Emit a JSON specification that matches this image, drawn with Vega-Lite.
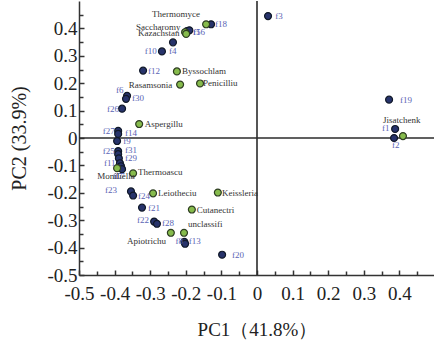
{
  "$schema": "https://vega.github.io/schema/vega-lite/v6.json",
  "width": 356,
  "height": 274,
  "autosize": {"type": "none"},
  "padding": {"left": 79, "top": 1, "right": 0, "bottom": 67},
  "background": "white",
  "config": {"view": {"stroke": null}, "font": "Liberation Serif", "axis": {"labelOverlap": false, "grid": false}},
  "resolve": {"axis": {"x": "independent", "y": "independent"}},
  "datasets": {
    "pts": [
      {"name": "f3", "type": "sample", "x": 0.031, "y": 0.445, "lx": 0.051, "ly": 0.445},
      {"name": "f18", "type": "sample", "x": -0.129, "y": 0.415, "lx": -0.118, "ly": 0.415},
      {"name": "f5", "type": "sample", "x": -0.197, "y": 0.39, "lx": -0.18, "ly": 0.386},
      {"name": "f16", "type": "sample", "x": -0.19, "y": 0.393, "lx": -0.18, "ly": 0.386},
      {"name": "f4", "type": "sample", "x": -0.236, "y": 0.349, "lx": -0.247, "ly": 0.316},
      {"name": "f10", "type": "sample", "x": -0.267, "y": 0.316, "lx": -0.315, "ly": 0.316},
      {"name": "f12", "type": "sample", "x": -0.32, "y": 0.246, "lx": -0.306, "ly": 0.246},
      {"name": "f6", "type": "sample", "x": -0.365, "y": 0.154, "lx": -0.396, "ly": 0.176},
      {"name": "f30", "type": "sample", "x": -0.368, "y": 0.143, "lx": -0.351, "ly": 0.147},
      {"name": "f26", "type": "sample", "x": -0.379, "y": 0.107, "lx": -0.421, "ly": 0.107},
      {"name": "f27", "type": "sample", "x": -0.39, "y": 0.026, "lx": -0.433, "ly": 0.026},
      {"name": "f14", "type": "sample", "x": -0.39, "y": 0.015, "lx": -0.371, "ly": 0.018},
      {"name": "f9", "type": "sample", "x": -0.393, "y": -0.011, "lx": -0.376, "ly": -0.011},
      {"name": "f25", "type": "sample", "x": -0.39, "y": -0.048, "lx": -0.433, "ly": -0.048},
      {"name": "f31", "type": "sample", "x": -0.39, "y": -0.059, "lx": -0.371, "ly": -0.044},
      {"name": "f29", "type": "sample", "x": -0.388, "y": -0.074, "lx": -0.371, "ly": -0.074},
      {"name": "f11", "type": "sample", "x": -0.385, "y": -0.092, "lx": -0.43, "ly": -0.092},
      {"name": "f7", "type": "sample", "x": -0.382, "y": -0.103, "lx": -0.399, "ly": -0.14},
      {"name": "f17", "type": "sample", "x": -0.379, "y": -0.114, "lx": -0.405, "ly": -0.14},
      {"name": "f23", "type": "sample", "x": -0.354, "y": -0.195, "lx": -0.427, "ly": -0.191},
      {"name": "f24", "type": "sample", "x": -0.348, "y": -0.21, "lx": -0.334, "ly": -0.21},
      {"name": "f21", "type": "sample", "x": -0.323, "y": -0.254, "lx": -0.306, "ly": -0.254},
      {"name": "f22", "type": "sample", "x": -0.289, "y": -0.305, "lx": -0.337, "ly": -0.301},
      {"name": "f28", "type": "sample", "x": -0.281, "y": -0.313, "lx": -0.267, "ly": -0.309},
      {"name": "f8", "type": "sample", "x": -0.204, "y": -0.379, "lx": -0.229, "ly": -0.375},
      {"name": "f13", "type": "sample", "x": -0.202, "y": -0.386, "lx": -0.192, "ly": -0.375},
      {"name": "f20", "type": "sample", "x": -0.098, "y": -0.426, "lx": -0.07, "ly": -0.426},
      {"name": "f19", "type": "sample", "x": 0.371, "y": 0.14, "lx": 0.402, "ly": 0.14},
      {"name": "f1", "type": "sample", "x": 0.388, "y": 0.033, "lx": 0.351, "ly": 0.037},
      {"name": "f2", "type": "sample", "x": 0.385, "y": 0.0, "lx": 0.379, "ly": -0.026},
      {"name": "Thermomyce", "type": "genus", "x": -0.143, "y": 0.415, "lx": -0.295, "ly": 0.452},
      {"name": "Saccharomy", "type": "genus", "x": -0.202, "y": 0.386, "lx": -0.34, "ly": 0.404},
      {"name": "Kazachstan", "type": "genus", "x": -0.199, "y": 0.38, "lx": -0.334, "ly": 0.382},
      {"name": "Byssochlam", "type": "genus", "x": -0.225, "y": 0.243, "lx": -0.211, "ly": 0.243},
      {"name": "Rasamsonia", "type": "genus", "x": -0.216, "y": 0.195, "lx": -0.36, "ly": 0.195},
      {"name": "Penicilliu", "type": "genus", "x": -0.16, "y": 0.199, "lx": -0.152, "ly": 0.199},
      {"name": "Aspergillu", "type": "genus", "x": -0.331, "y": 0.051, "lx": -0.315, "ly": 0.051},
      {"name": "Moniliella", "type": "genus", "x": -0.393, "y": -0.11, "lx": -0.449, "ly": -0.14},
      {"name": "Thermoascu", "type": "genus", "x": -0.348, "y": -0.129, "lx": -0.334, "ly": -0.125},
      {"name": "Leiotheciu", "type": "genus", "x": -0.292, "y": -0.202, "lx": -0.278, "ly": -0.202},
      {"name": "Keissleria", "type": "genus", "x": -0.11, "y": -0.199, "lx": -0.098, "ly": -0.199},
      {"name": "Cutanectri", "type": "genus", "x": -0.183, "y": -0.261, "lx": -0.169, "ly": -0.261},
      {"name": "unclassifi", "type": "genus", "x": -0.205, "y": -0.346, "lx": -0.194, "ly": -0.313},
      {"name": "Apiotrichu", "type": "genus", "x": -0.242, "y": -0.346, "lx": -0.365, "ly": -0.375},
      {"name": "Jisatchenk", "type": "genus", "x": 0.41, "y": 0.007, "lx": 0.354, "ly": 0.066}
    ],
    "zero": [{"z": 0}]
  },
  "layer": [
    {
      "data": {"name": "zero"},
      "mark": {"type": "rule", "color": "#2b2b2b", "strokeWidth": 1.6},
      "encoding": {
        "x": {"field": "z", "type": "quantitative", "scale": {"domain": [-0.5, 0.5], "nice": false, "zero": false},
          "axis": {
            "orient": "bottom",
            "values": [-0.5, -0.4, -0.3, -0.2, -0.1, 0, 0.1, 0.2, 0.3, 0.4],
            "labelExpr": "datum.value == 0 ? '0' : (datum.value < 0 ? '-' + format(abs(datum.value), '.1f') : format(datum.value, '.1f'))",
            "title": "PC1（41.8%）",
            "titleFont": "Liberation Serif",
            "titleFontSize": 19,
            "titleFontWeight": "normal",
            "titleColor": "#222",
            "titlePadding": 17,
            "labelFont": "Liberation Serif",
            "labelFontSize": 19,
            "labelColor": "#222",
            "labelPadding": 14,
            "labelFlush": false,
            "labelOverlap": false,
            "labelBound": false,
            "tickSize": -5,
            "tickColor": "#333",
            "tickWidth": 1.5,
            "domainColor": "#333",
            "domainWidth": 1.5,
            "grid": false
          }
        }
      }
    },
    {
      "data": {"name": "zero"},
      "mark": {"type": "rule", "color": "#2b2b2b", "strokeWidth": 1.6},
      "encoding": {
        "y": {"field": "z", "type": "quantitative", "scale": {"domain": [-0.5, 0.5], "nice": false, "zero": false},
          "axis": {
            "orient": "left",
            "values": [-0.5, -0.4, -0.3, -0.2, -0.1, 0, 0.1, 0.2, 0.3, 0.4],
            "labelExpr": "datum.value == 0 ? '0' : (datum.value < 0 ? '-' + format(abs(datum.value), '.1f') : format(datum.value, '.1f'))",
            "title": "PC2 (33.9%)",
            "titleFont": "Liberation Serif",
            "titleFontSize": 20,
            "titleFontWeight": "normal",
            "titleColor": "#222",
            "titlePadding": 17,
            "labelFont": "Liberation Serif",
            "labelFontSize": 19,
            "labelColor": "#222",
            "labelPadding": 7,
            "labelFlush": false,
            "labelOverlap": false,
            "labelBound": false,
            "tickSize": -5,
            "tickColor": "#333",
            "tickWidth": 1.5,
            "domainColor": "#333",
            "domainWidth": 1.5,
            "grid": false
          }
        }
      }
    },
    {
      "data": {"name": "pts"},
      "mark": {"type": "point", "filled": true, "size": 48, "strokeWidth": 1.2, "opacity": 1},
      "encoding": {
        "x": {"field": "x", "type": "quantitative",
          "axis": {"orient": "bottom", "values": [-0.45, -0.35, -0.25, -0.15, -0.05, 0.05, 0.15, 0.25, 0.35, 0.45], "labels": false, "domain": false, "title": null, "tickSize": -4, "tickColor": "#333", "tickWidth": 1.5, "grid": false}},
        "y": {"field": "y", "type": "quantitative",
          "axis": {"orient": "left", "values": [-0.45, -0.35, -0.25, -0.15, -0.05, 0.05, 0.15, 0.25, 0.35, 0.45], "labels": false, "domain": false, "title": null, "tickSize": -4, "tickColor": "#333", "tickWidth": 1.5, "grid": false}},
        "fill": {"field": "type", "type": "nominal", "scale": {"domain": ["sample", "genus"], "range": ["#27336b", "#86bb4c"]}, "legend": null},
        "stroke": {"field": "type", "type": "nominal", "scale": {"domain": ["sample", "genus"], "range": ["#101828", "#2e3d22"]}, "legend": null}
      }
    },
    {
      "data": {"name": "pts"},
      "mark": {"type": "text", "align": "left", "baseline": "middle", "font": "Liberation Serif", "fontSize": 9},
      "encoding": {
        "x": {"field": "lx", "type": "quantitative", "axis": null},
        "y": {"field": "ly", "type": "quantitative", "axis": null},
        "text": {"field": "name"},
        "color": {"field": "type", "type": "nominal", "scale": {"domain": ["sample", "genus"], "range": ["#5a64b4", "#333333"]}, "legend": null}
      }
    }
  ]
}
